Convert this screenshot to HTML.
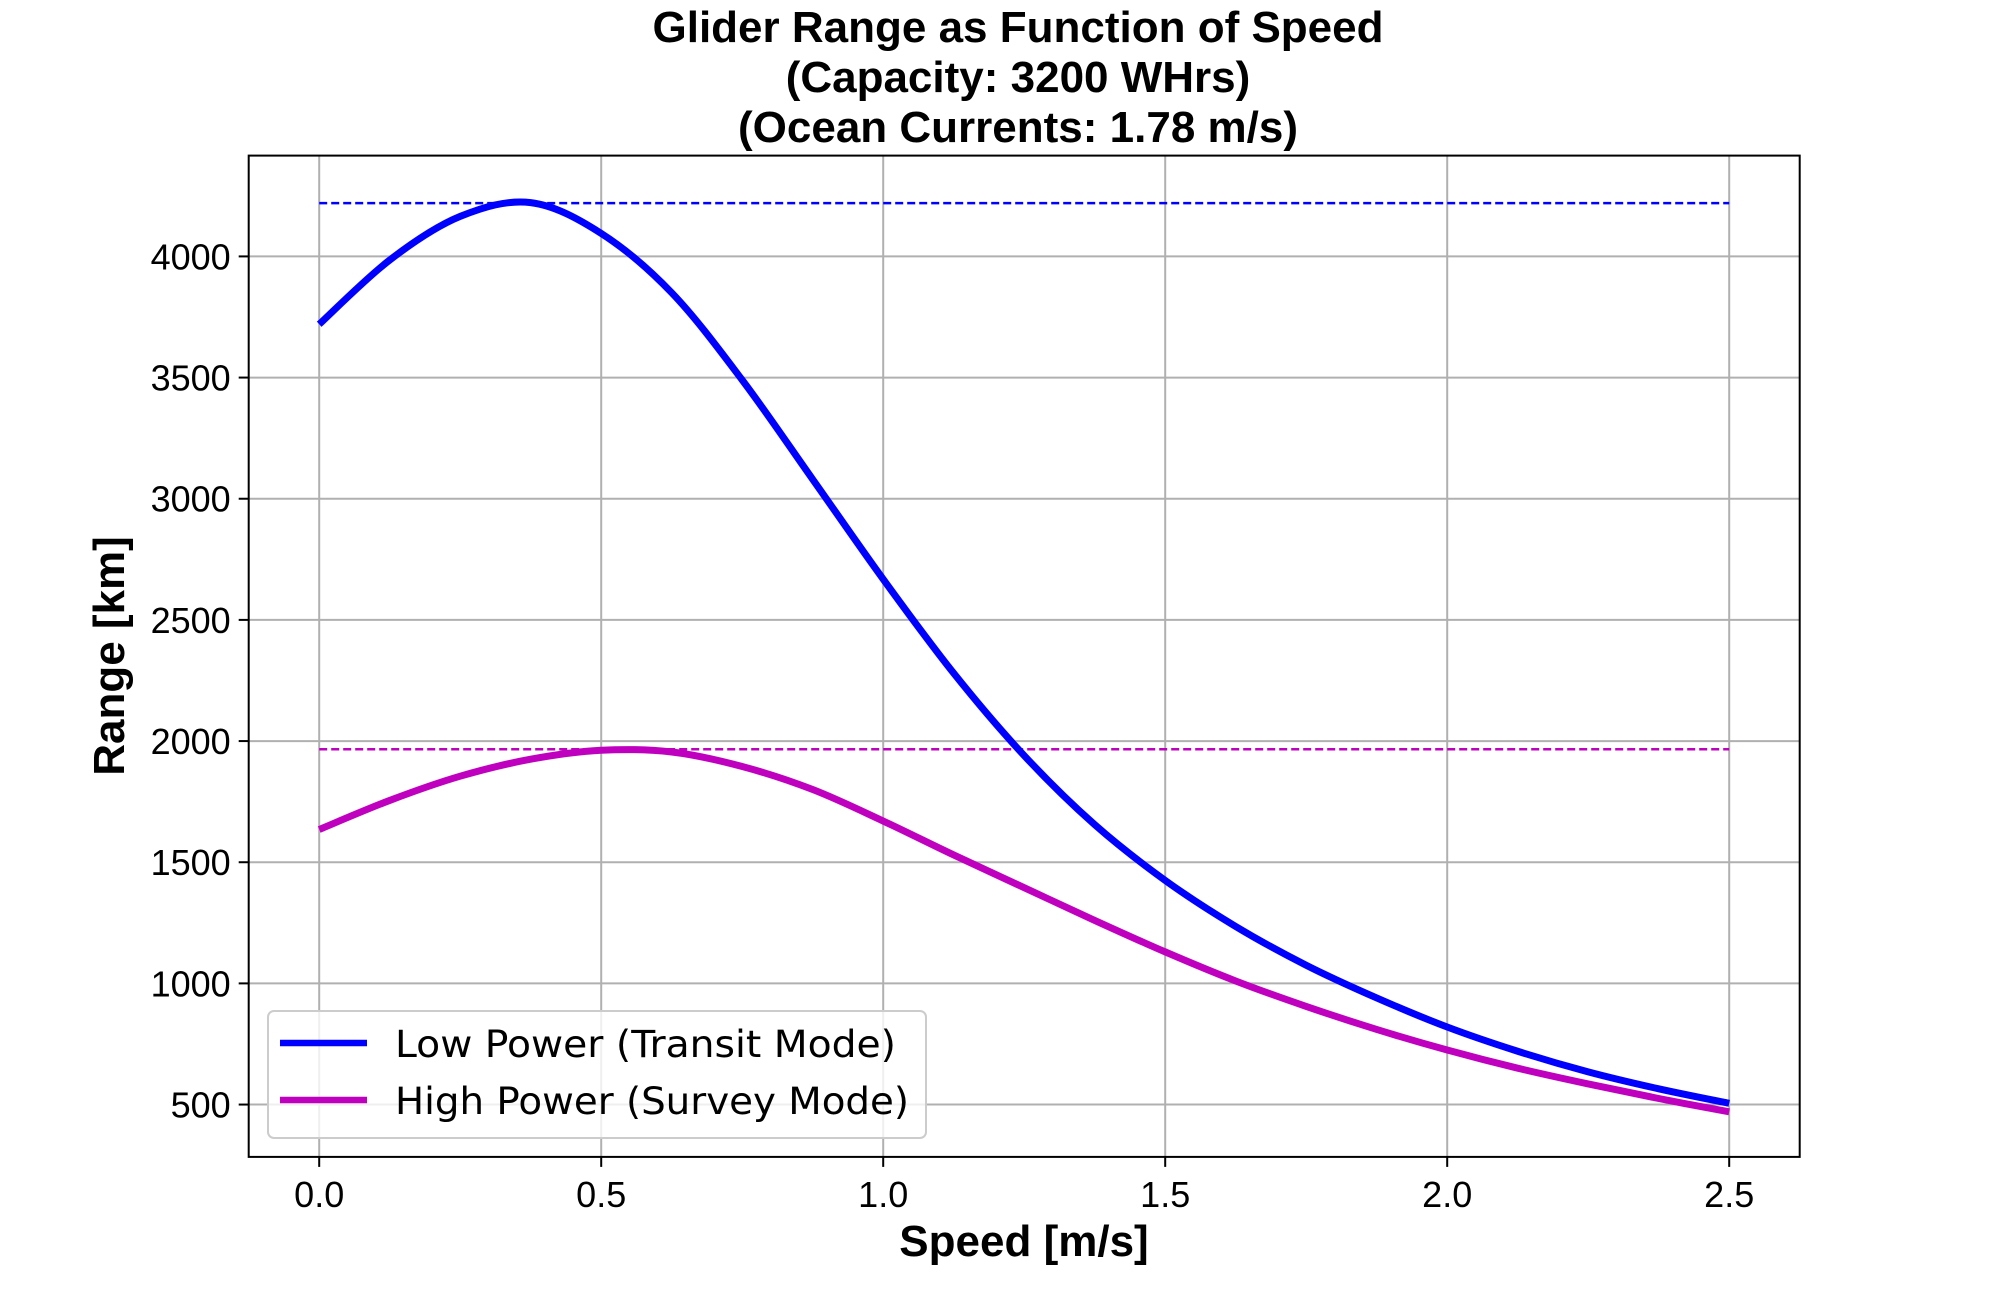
<!DOCTYPE html>
<html><head><meta charset="utf-8"><style>
html,body{margin:0;padding:0;background:#fff;}
svg{display:block;}
</style></head><body>
<svg id="chart" width="2000" height="1300" xmlns="http://www.w3.org/2000/svg">
<g id="grid"></g>
<g id="marks"></g>
<rect x="248.7" y="155.6" width="1551" height="1001.3" fill="none" stroke="#000" stroke-width="2"/>
<g id="ticks"></g>
<g font-family="Liberation Sans, Arial, sans-serif" font-weight="bold" text-anchor="middle" fill="#000">
<text x="1018" y="42" font-size="44">Glider Range as Function of Speed</text>
<text x="1018" y="92" font-size="44">(Capacity: 3200 WHrs)</text>
<text x="1018" y="142" font-size="44">(Ocean Currents: 1.78 m/s)</text>
</g>
<text x="1024" y="1256" font-family="Liberation Sans, Arial, sans-serif" font-weight="bold" font-size="44" text-anchor="middle">Speed [m/s]</text>
<text transform="translate(124,656) rotate(-90)" font-family="Liberation Sans, Arial, sans-serif" font-weight="bold" font-size="44" text-anchor="middle">Range [km]</text>
<g>
<rect x="268" y="1011" width="658" height="127" rx="6" fill="#fff" fill-opacity="0.8" stroke="#ccc" stroke-width="2"/>
<line x1="280" y1="1043" x2="367" y2="1043" stroke="#0000ff" stroke-width="6.5"/>
<text x="395" y="1057" font-family="DejaVu Sans, sans-serif" font-size="37" textLength="501" lengthAdjust="spacingAndGlyphs">Low Power (Transit Mode)</text>
<line x1="280" y1="1100" x2="367" y2="1100" stroke="#bf00bf" stroke-width="6.5"/>
<text x="395" y="1114" font-family="DejaVu Sans, sans-serif" font-size="37" textLength="514" lengthAdjust="spacingAndGlyphs">High Power (Survey Mode)</text>
</g>
</svg>
<script>
const speeds=[0,0.125,0.25,0.375,0.5,0.625,0.75,0.875,1.0,1.125,1.25,1.375,1.5,1.625,1.75,1.875,2.0,2.125,2.25,2.375,2.5];
const lowPower=[3720,3985,4165,4222,4095,3850,3490,3080,2668,2280,1940,1655,1425,1235,1075,940,820,720,635,565,505];
const highPower=[1635,1755,1855,1925,1962,1955,1895,1800,1670,1530,1395,1260,1130,1010,905,810,725,650,585,525,470];
const lowMax=4220;
const highMax=1966;
const xTicks=[0,0.5,1.0,1.5,2.0,2.5];
const xTickLabels=["0.0","0.5","1.0","1.5","2.0","2.5"];
const yTicks=[500,1000,1500,2000,2500,3000,3500,4000];
const yTickLabels=["500","1000","1500","2000","2500","3000","3500","4000"];

const L=248.7,R=1799.7,T=155.6,B=1156.9;
const xmin=-0.125,xmax=2.625,ymin=284,ymax=4416;
function xs(v){return L+(v-xmin)/(xmax-xmin)*(R-L);}
function ys(v){return B-(v-ymin)/(ymax-ymin)*(B-T);}
const NS='http://www.w3.org/2000/svg';
function mk(tag,attrs,parent){const e=document.createElementNS(NS,tag);for(const k in attrs)e.setAttribute(k,attrs[k]);parent.appendChild(e);return e;}
const grid=document.getElementById('grid'),ticks=document.getElementById('ticks'),marks=document.getElementById('marks');
xTicks.forEach((t,i)=>{
  const g=mk('line',{x1:xs(t),x2:xs(t),y1:T,y2:B,stroke:'#b0b0b0','stroke-width':2},grid);
  
  
  const tk=mk('line',{x1:xs(t),x2:xs(t),y1:B,y2:B+10,stroke:'#000','stroke-width':2},ticks);
  
  
  const tx=mk('text',{x:xs(t),y:B+50,'font-family':'Liberation Sans, Arial, sans-serif','font-size':'36','text-anchor':'middle'},ticks);
  tx.textContent=xTickLabels[i];
  
  
});
yTicks.forEach((t,i)=>{
  const g=mk('line',{x1:L,x2:R,y1:ys(t),y2:ys(t),stroke:'#b0b0b0','stroke-width':2},grid);
  
  
  const tk=mk('line',{x1:L-10,x2:L,y1:ys(t),y2:ys(t),stroke:'#000','stroke-width':2},ticks);
  
  
  const tx=mk('text',{x:L-18,y:ys(t)+13,'font-family':'Liberation Sans, Arial, sans-serif','font-size':'36','text-anchor':'end'},ticks);
  tx.textContent=yTickLabels[i];
  
  
});
function smoothPath(xv,yv){
  const p=xv.map((x,i)=>[xs(x),ys(yv[i])]);
  let d='M'+p[0][0]+','+p[0][1];
  for(let i=0;i<p.length-1;i++){
    const p0=p[Math.max(0,i-1)],p1=p[i],p2=p[i+1],p3=p[Math.min(p.length-1,i+2)];
    const c1=[p1[0]+(p2[0]-p0[0])/6,p1[1]+(p2[1]-p0[1])/6];
    const c2=[p2[0]-(p3[0]-p1[0])/6,p2[1]-(p3[1]-p1[1])/6];
    d+=' C'+c1[0]+','+c1[1]+' '+c2[0]+','+c2[1]+' '+p2[0]+','+p2[1];
  }
  return d;
}
const d1=mk('line',{x1:xs(speeds[0]),x2:xs(speeds[speeds.length-1]),y1:ys(lowMax),y2:ys(lowMax),stroke:'#0000ff','stroke-width':2.5,'stroke-dasharray':'8,4'},marks);


const d2=mk('line',{x1:xs(speeds[0]),x2:xs(speeds[speeds.length-1]),y1:ys(highMax),y2:ys(highMax),stroke:'#bf00bf','stroke-width':2.5,'stroke-dasharray':'8,4'},marks);


const l1=mk('path',{d:smoothPath(speeds,lowPower),fill:'none',stroke:'#0000ff','stroke-width':7},marks);


const l2=mk('path',{d:smoothPath(speeds,highPower),fill:'none',stroke:'#bf00bf','stroke-width':7},marks);


</script>
</body></html>
